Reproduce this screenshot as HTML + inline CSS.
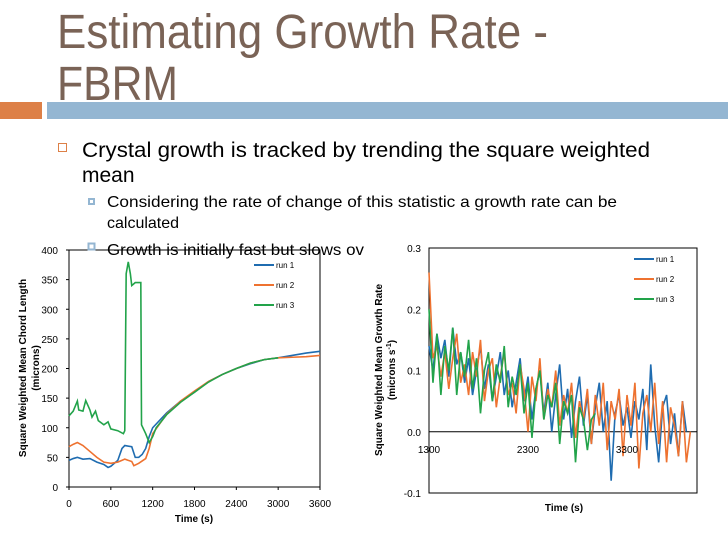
<!DOCTYPE html>
<html><head><meta charset="utf-8"><style>
html,body{margin:0;padding:0;background:#fff;}
svg{display:block;font-family:"Liberation Sans",sans-serif;}
</style></head><body>
<svg id="s" width="728" height="546" viewBox="0 0 728 546">
<text x="57" y="48" font-size="48" fill="#7a6356" textLength="491" lengthAdjust="spacingAndGlyphs">Estimating Growth Rate -</text>
<text x="57" y="100" font-size="48" fill="#7a6356" textLength="121" lengthAdjust="spacingAndGlyphs">FBRM</text>
<rect x="0" y="102" width="42" height="17" fill="#dd8047"/>
<rect x="47" y="102" width="681" height="17" fill="#94b6d2"/>
<rect x="58.5" y="143.5" width="8" height="8" fill="none" stroke="#dd8047" stroke-width="1"/>
<text x="82" y="157" font-size="21" fill="#000" textLength="568" lengthAdjust="spacingAndGlyphs">Crystal growth is tracked by trending the square weighted</text>
<text x="82" y="182" font-size="21" fill="#000">mean</text>
<rect x="88" y="198" width="7" height="7" fill="#94b6d2"/><rect x="90" y="200" width="3" height="3" fill="#fff"/>
<text x="107" y="207" font-size="16" fill="#000" textLength="510" lengthAdjust="spacingAndGlyphs">Considering the rate of change of this statistic a growth rate can be</text>
<text x="107" y="228" font-size="16" fill="#000">calculated</text>

<g id="left"></g>
<rect x="364" y="238" width="364" height="308" fill="#fff"/>
<g id="right"></g>
</svg>
<script>
// Left chart data
const lTicksY=[0,50,100,150,200,250,300,350,400];
const lTicksX=[0,600,1200,1800,2400,3000,3600];
const run1T=[0,60,120,200,300,400,500,560,600,700,760,800,900,950,1000,1050,1100,1150,1200,1400,1600,1800,2000,2200,2400,2600,2800,3000,3200,3400,3600];
const run1V=[45,48,50,47,48,42,38,33,35,45,65,70,68,50,50,55,65,85,100,125,145,160,178,190,200,208,215,218,222,226,229];
const run2T=[0,60,120,200,300,400,500,600,700,800,900,930,1000,1100,1150,1200,1400,1600,1800,2000,2200,2400,2600,2800,3000,3200,3400,3600];
const run2V=[68,72,75,70,60,50,42,40,42,47,43,36,40,48,65,90,123,145,162,178,190,200,209,215,218,219,220,222];
const run3T=[0,60,120,140,200,240,300,330,380,420,500,560,600,700,780,800,820,850,880,900,950,1000,1030,1040,1100,1150,1200,1250,1400,1600,1800,2000,2200,2400,2600,2800,3000];
const run3V=[120,128,145,130,128,146,130,118,128,112,105,110,98,95,90,95,360,380,360,340,345,345,345,105,90,75,85,100,122,143,160,177,190,200,209,215,218];
// Right chart data
const rTicksY=[0.3,0.2,0.1,0.0,-0.1];
const rTickLabY=["0.3","0.2","0.1","0.0","-0.1"];
const rTicksX=[1300,2300,3300];
const rStep=40;
const g1=[0.14,0.10,0.16,0.12,0.15,0.09,0.17,0.11,0.13,0.08,0.12,0.06,0.10,0.14,0.07,0.11,0.05,0.09,0.13,0.06,0.10,0.04,0.08,0.12,0.05,0.09,0.02,0.07,0.10,0.03,0.08,0.00,0.06,0.11,0.02,0.07,-0.01,0.05,0.09,0.01,0.06,-0.02,0.04,0.08,0.00,0.05,-0.08,0.03,0.06,0.01,0.04,-0.01,0.05,0.02,0.07,-0.03,0.11,0.01,-0.05,0.04,0.06,-0.02,0.03,-0.04,0.05,0.0];
const g2=[0.26,0.12,0.14,0.09,0.13,0.07,0.12,0.16,0.08,0.11,0.06,0.13,0.09,0.15,0.05,0.10,0.12,0.04,0.09,0.13,0.06,0.08,0.03,0.11,0.07,0.00,0.09,0.05,0.12,0.02,0.07,0.04,0.10,0.01,0.06,0.03,0.08,-0.01,0.05,0.02,0.07,-0.02,0.06,0.01,0.08,-0.03,0.05,0.02,0.07,-0.04,0.06,0.01,0.08,-0.06,0.03,0.06,0.00,0.08,-0.02,0.05,-0.05,0.04,0.01,-0.04,0.05,-0.05,0.00];
const g3=[0.20,0.08,0.16,0.06,0.14,0.10,0.17,0.06,0.13,0.09,0.15,0.07,0.12,0.03,0.10,0.13,0.05,0.11,0.08,0.14,0.04,0.09,0.06,0.11,0.03,0.08,-0.01,0.07,0.10,0.02,0.06,0.04,0.08,-0.02,0.05,0.03,0.06,-0.05,0.04,0.02,-0.03,0.02,0.03];
const colors=["#1f6cb0","#ee7230","#22a34a"];
const NS="http://www.w3.org/2000/svg";
function mk(parent,tag,attrs,txt){const e=document.createElementNS(NS,tag);for(const k in attrs)e.setAttribute(k,attrs[k]);if(txt!==undefined)e.textContent=txt;parent.appendChild(e);return e;}

// LEFT
const L=document.getElementById('left');
const lx=t=>69+t/3600*251, ly=v=>487-v/400*237;
mk(L,'rect',{x:69,y:250,width:251,height:237,fill:'none',stroke:'#000','stroke-width':1});
lTicksY.forEach(v=>{
  const t=mk(L,'text',{x:58,y:ly(v)+4,'font-size':10,'text-anchor':'end'},String(v));
  
  
  mk(L,'line',{x1:66,x2:69,y1:ly(v),y2:ly(v),stroke:'#000'});
});
lTicksX.forEach(v=>{
  const t=mk(L,'text',{x:lx(v),y:507,'font-size':10,'text-anchor':'middle'},String(v));
  
  
  mk(L,'line',{x1:lx(v),x2:lx(v),y1:487,y2:490,stroke:'#000'});
});
[[run1T,run1V],[run2T,run2V],[run3T,run3V]].forEach((s,i)=>{
  const p=mk(L,'polyline',{points:s[0].map((t,j)=>lx(t)+','+ly(s[1][j])).join(' '),fill:'none',stroke:colors[i],'stroke-width':1.6});
  
  
  mk(L,'line',{x1:254,x2:274,y1:265+i*20,y2:265+i*20,stroke:colors[i],'stroke-width':2});
  const lt=mk(L,'text',{x:276,y:268+i*20,'font-size':8},'run '+(i+1));
  
  
});
mk(L,'text',{x:194,y:522,'font-size':10,'font-weight':'bold','text-anchor':'middle'},'Time (s)');
mk(L,'text',{transform:'translate(26,368) rotate(-90)','font-size':10,'font-weight':'bold','text-anchor':'middle'},'Square Weighted Mean Chord Length');
mk(L,'text',{transform:'translate(39,368) rotate(-90)','font-size':10,'font-weight':'bold','text-anchor':'middle'},'(microns)');
// overlapping bullet text
mk(L,'rect',{x:88.5,y:243.5,width:6,height:6,fill:'none',stroke:'#94b6d2','stroke-width':2});
mk(L,'text',{x:107,y:255,'font-size':16,textLength:257,lengthAdjust:'spacingAndGlyphs'},'Growth is initially fast but slows ov');

// RIGHT
const R=document.getElementById('right');
const rx=t=>429+(t-1300)/1000*99, ry=v=>493-(v+0.1)/0.4*245;
mk(R,'rect',{x:429,y:248,width:268,height:245,fill:'none',stroke:'#000','stroke-width':1});
mk(R,'line',{x1:429,x2:697,y1:ry(0),y2:ry(0),stroke:'#000'});
rTicksY.forEach((v,i)=>{
  const t=mk(R,'text',{x:421,y:ry(v)+4,'font-size':10,'text-anchor':'end'},rTickLabY[i]);
  
  
});
[g1,g2,g3].forEach((s,i)=>{
  const p=mk(R,'polyline',{points:s.map((v,j)=>rx(1300+j*rStep)+','+ry(v)).join(' '),fill:'none',stroke:colors[i],'stroke-width':1.6});
  
  
  mk(R,'line',{x1:634,x2:654,y1:259+i*20,y2:259+i*20,stroke:colors[i],'stroke-width':2});
  const lt=mk(R,'text',{x:656,y:262+i*20,'font-size':8},'run '+(i+1));
  
  
});
rTicksX.forEach(v=>{
  const t=mk(R,'text',{x:rx(v),y:453,'font-size':10,'text-anchor':'middle'},String(v));
  
  
});
mk(R,'text',{x:564,y:511,'font-size':10,'font-weight':'bold','text-anchor':'middle'},'Time (s)');
mk(R,'text',{transform:'translate(382,370) rotate(-90)','font-size':10,'font-weight':'bold','text-anchor':'middle'},'Square Weighted Mean Growth Rate');
const yt=mk(R,'text',{transform:'translate(395,370) rotate(-90)','font-size':10,'font-weight':'bold','text-anchor':'middle'},'(microns s');
mk(yt,'tspan',{dy:-4,'font-size':7},'-1');
mk(yt,'tspan',{dy:4},')');
</script>
</body></html>
